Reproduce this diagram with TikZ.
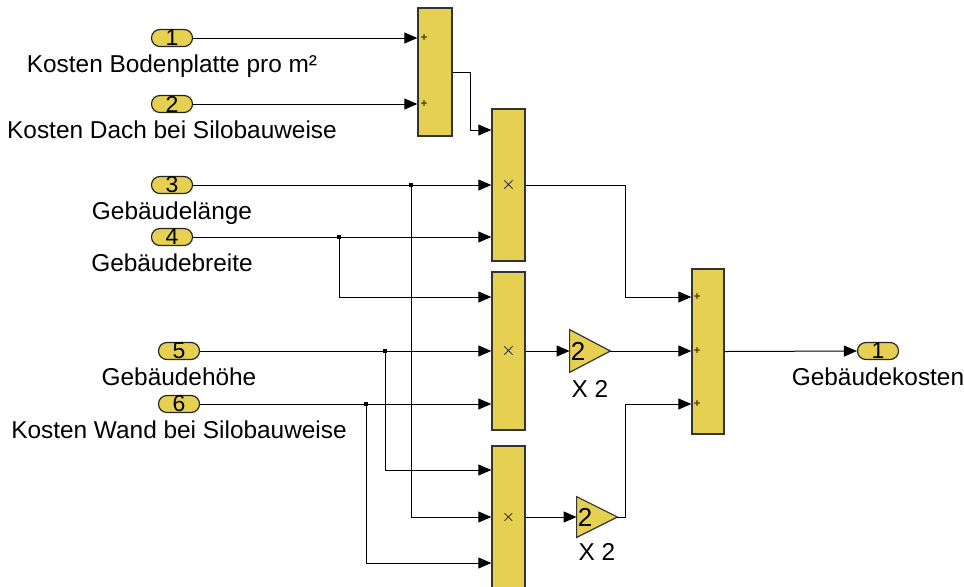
\documentclass[tikz,border=0pt]{standalone}
\usepackage{fontspec}
\setmainfont{Liberation Sans}
\usetikzlibrary{arrows.meta,positioning}
\definecolor{blkyellow}{RGB}{230,208,82}
\begin{document}
\begin{tikzpicture}[x=0.5pt,y=-0.5pt,node distance=0pt,font=\fontsize{12.2}{14}\selectfont]
	\tikzstyle{port} = [rectangle,rounded corners=4.2pt,fill=blkyellow,draw=black!85,line width=0.6pt,
	minimum width=20.5pt,minimum height=8.5pt,inner sep=0pt,font=\fontsize{11.5}{11.5}\selectfont]
	\tikzstyle{blk} = [rectangle,fill=blkyellow,draw=black!80,line width=0.7pt,inner sep=0pt]
	\tikzstyle{lab} = [inner sep=1pt]
	\tikzstyle{arr} = [line width=0.5pt,-{Triangle[length=6.5pt,width=5.5pt]}]
	\tikzstyle{sgn} = [inner sep=0pt,font=\fontsize{6}{6}\selectfont]
	\tikzstyle{dot} = [fill=black,inner sep=0pt,minimum size=1.6pt]
	\useasboundingbox (0,0) rectangle (964,586);

	% inports
	\node (in1) [port] at (172,38) {1};
	\node (in2) [port] at (172,104) {2};
	\node (in3) [port] at (172,185) {3};
	\node (in4) [port] at (172,237) {4};
	\node (in5) [port] at (179,351) {5};
	\node (in6) [port] at (179,404) {6};
	\node (lab1) [lab, below=2.5pt of in1] {Kosten Bodenplatte pro m²};
	\node (lab2) [lab, below=2.5pt of in2] {Kosten Dach bei Silobauweise};
	\node (lab3) [lab, below=2.5pt of in3] {Gebäudelänge};
	\node (lab4) [lab, below=2.5pt of in4] {Gebäudebreite};
	\node (lab5) [lab, below=2.5pt of in5] {Gebäudehöhe};
	\node (lab6) [lab, below=2.5pt of in6] {Kosten Wand bei Silobauweise};

	% blocks
	\node (sum1) [blk, minimum width=17pt, minimum height=64pt] at (435,72) {};
	\node (prod1) [blk, minimum width=16.5pt, minimum height=76pt] at (508.5,185) {};
	\node (prod2) [blk, minimum width=16.5pt, minimum height=79pt] at (508.5,351) {};
	\node (prod3) [blk, minimum width=16.5pt, minimum height=71pt] at (508.5,517) {};
	\node (sum2) [blk, minimum width=16pt, minimum height=82.5pt] at (708,351.5) {};
	\node (gain1) [minimum width=20pt, minimum height=21pt, inner sep=0pt] at (590,351) {};
	\node (gain2) [minimum width=20pt, minimum height=20pt, inner sep=0pt] at (597,517) {};
	\draw[fill=blkyellow,draw=black!80,line width=0.6pt] (gain1.north west) -- (gain1.east) -- (gain1.south west) -- cycle;
	\draw[fill=blkyellow,draw=black!80,line width=0.6pt] (gain2.north west) -- (gain2.east) -- (gain2.south west) -- cycle;
	\node at (578,351) {\fontsize{13}{13}\selectfont 2};
	\node at (585,517) {\fontsize{13}{13}\selectfont 2};
	\node (glab1) [lab, below=3pt of gain1] {X 2};
	\node (glab2) [lab, below=2pt of gain2] {X 2};
	\node (out1) [port] at (878,351) {1};
	\node (lab7) [lab, below=2.5pt of out1] {Gebäudekosten};

	% signs
	\node [sgn] at (424,38) {+};
	\node [sgn] at (424,104) {+};
	\node [sgn] at (697,297) {+};
	\node [sgn] at (697,351) {+};
	\node [sgn] at (697,404) {+};
	\node [inner sep=0pt] at (prod1) {\fontsize{9}{9}\selectfont$\times$};
	\node [inner sep=0pt] at (prod2) {\fontsize{9}{9}\selectfont$\times$};
	\node [inner sep=0pt] at (prod3) {\fontsize{8}{8}\selectfont$\times$};

	% branch points
	\coordinate (br3) at (411,185);
	\coordinate (br4) at (339,237);
	\coordinate (br5) at (385,351);
	\coordinate (br6) at (366,404);

	% signals
	\draw[arr] (in1.east) -- (in1 -| sum1.west);
	\draw[arr] (in2.east) -- (in2 -| sum1.west);
	\draw[arr] (sum1.east) -- ++(18,0) |- (prod1.west |- 0,130);
	\draw[arr] (in3.east) -- (in3 -| prod1.west);
	\draw[arr] (in4.east) -- (in4 -| prod1.west);
	\draw[arr] (br4) |- (prod2.west |- 0,297);
	\draw[arr] (in5.east) -- (in5 -| prod2.west);
	\draw[arr] (in6.east) -- (in6 -| prod2.west);
	\draw[arr] (br3) |- (prod3.west);
	\draw[arr] (br5) |- (prod3.west |- 0,470);
	\draw[arr] (br6) |- (prod3.west |- 0,563);
	\draw[arr] (prod1.east) -- ++(100,0) |- (sum2.west |- 0,297);
	\draw[arr] (prod2.east) -- (gain1.west);
	\draw[arr] (gain1.east) -- (gain1.east -| sum2.west);
	\draw[arr] (prod3.east) -- (gain2.west);
	\draw[arr] (gain2.east) -- ++(8,0) |- (sum2.west |- 0,404);
	\draw[arr] (sum2.east) -- (out1.west);
	\node [dot] at (br3) {};
	\node [dot] at (br4) {};
	\node [dot] at (br5) {};
	\node [dot] at (br6) {};
\end{tikzpicture}
\end{document}
